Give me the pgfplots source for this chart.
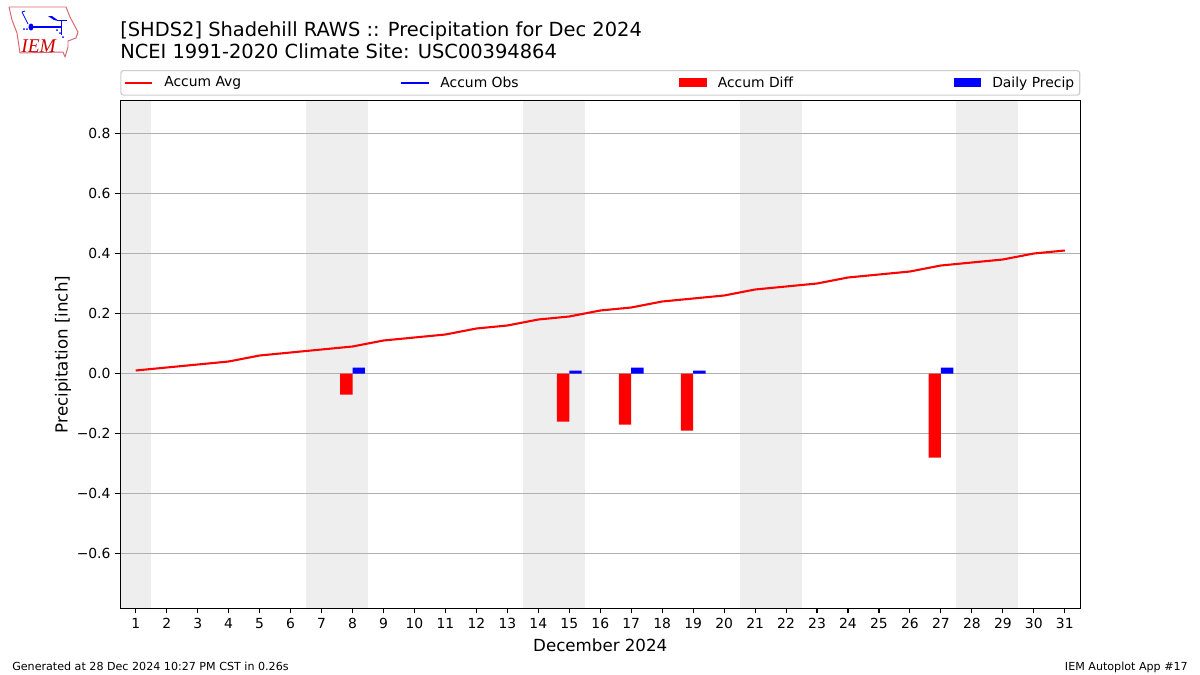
\documentclass[border=0pt]{standalone}
\usepackage{fontspec}
\setmainfont{DejaVu Sans}
\newfontfamily\logofont{Liberation Serif}
\usepackage{pgfplots}
\usepackage{pgfplotstable}
\pgfplotsset{compat=1.18}
\pgfplotstableread{
day avg
1 0.01
2 0.02
3 0.03
4 0.04
5 0.06
6 0.07
7 0.08
8 0.09
9 0.11
10 0.12
11 0.13
12 0.15
13 0.16
14 0.18
15 0.19
16 0.21
17 0.22
18 0.24
19 0.25
20 0.26
21 0.28
22 0.29
23 0.30
24 0.32
25 0.33
26 0.34
27 0.36
28 0.37
29 0.38
30 0.40
31 0.41
}\avgtable
\pgfplotstableread{
day diff precip
8 -0.07 0.02
15 -0.16 0.01
17 -0.17 0.02
19 -0.19 0.01
27 -0.28 0.02
}\raintable
\definecolor{band}{HTML}{EEEEEE}
\definecolor{gridc}{HTML}{B0B0B0}
\definecolor{legc}{HTML}{CCCCCC}
\definecolor{logor}{HTML}{D9666E}
\begin{document}
\begin{tikzpicture}
\path (0,0) rectangle (864bp,486bp);
\begin{axis}[
  set layers=standard,
  at={(86.58bp,47.88bp)}, anchor=south west,
  scale only axis,
  width=691.2bp, height=365.76bp,
  xmin=0.5, xmax=31.5, ymin=-0.7833, ymax=0.91,
  xtick={1,...,31},
  ytick={-0.6,-0.4,-0.2,0,0.2,0.4,0.6,0.8},
  yticklabels={−0.6,−0.4,−0.2,0.0,0.2,0.4,0.6,0.8},
  ymajorgrids,
  grid style={gridc,line width=0.8bp},
  axis line style={line width=0.8bp},
  tick style={black,line width=0.8bp},
  major tick length=3.5bp,
  tick align=outside, xtick pos=bottom, ytick pos=left,
  tick label style={font=\fontsize{10bp}{12bp}\selectfont},
  xticklabel style={yshift=0.2bp},
  /pgf/number format/assume math mode=true,
  xlabel={December 2024},
  ylabel={Precipitation [inch]},
  label style={font=\fontsize{12bp}{14bp}\selectfont},
  xlabel style={yshift=-0.6bp},
  ylabel style={yshift=-2.7bp},
  legend columns=4,
  legend cell align=left,
  legend style={
    at={(0,1.0095)}, anchor=south west,
    draw=legc, rounded corners=2bp, line width=0.8bp,
    font=\fontsize{10bp}{12bp}\selectfont,
    inner xsep=2bp, inner ysep=2.3bp,
    /tikz/column 1/.style={column sep=5.8bp},
    /tikz/column 3/.style={column sep=5.8bp},
    /tikz/column 5/.style={column sep=5.8bp},
    /tikz/column 7/.style={column sep=5.8bp},
    /tikz/column 2/.style={column sep=112.1bp},
    /tikz/column 4/.style={column sep=113.56bp},
    /tikz/column 6/.style={column sep=113.56bp},
  },
]
\addplot[on layer=axis background, fill=band, draw=none, forget plot] coordinates {(0.5,-0.7833) (1.5,-0.7833) (1.5,0.91) (0.5,0.91)};
\addplot[on layer=axis background, fill=band, draw=none, forget plot] coordinates {(6.5,-0.7833) (8.5,-0.7833) (8.5,0.91) (6.5,0.91)};
\addplot[on layer=axis background, fill=band, draw=none, forget plot] coordinates {(13.5,-0.7833) (15.5,-0.7833) (15.5,0.91) (13.5,0.91)};
\addplot[on layer=axis background, fill=band, draw=none, forget plot] coordinates {(20.5,-0.7833) (22.5,-0.7833) (22.5,0.91) (20.5,0.91)};
\addplot[on layer=axis background, fill=band, draw=none, forget plot] coordinates {(27.5,-0.7833) (29.5,-0.7833) (29.5,0.91) (27.5,0.91)};
\addplot[red, line width=1.5bp, line join=round,
  legend image code/.code={\draw[sharp corners,red,line width=1.5bp] (0,0) -- (20bp,0);}] table[x=day,y=avg] {\avgtable};
\addlegendentry{Accum Avg}
\addlegendimage{legend image code/.code={\draw[sharp corners,blue,line width=1.5bp] (0,0) -- (20bp,0);}}
\addlegendentry{Accum Obs}
\addplot[ybar, bar width=8.92bp, bar shift=-4.46bp, fill=red, draw=none,
  legend image code/.code={\fill[sharp corners,red] (0,-3.2bp) rectangle (20bp,3.2bp);}] table[x=day,y=diff] {\raintable};
\addlegendentry{Accum Diff}
\addplot[ybar, bar width=8.92bp, bar shift=4.46bp, fill=blue, draw=none,
  legend image code/.code={\fill[sharp corners,blue] (0,-3.2bp) rectangle (20bp,3.2bp);}] table[x=day,y=precip] {\raintable};
\addlegendentry{Daily Precip}
\end{axis}
\begin{scope}[x=0.72bp,y=0.72bp]
% title
\node[anchor=base west, inner sep=0, font=\fontsize{14bp}{16bp}\selectfont] at (120,639) {[SHDS2] Shadehill RAWS :: Precipitation for Dec 2024};
\node[anchor=base west, inner sep=0, font=\fontsize{14bp}{16bp}\selectfont] at (120,617) {NCEI 1991-2020 Climate Site: USC00394864};
% footer
\node[anchor=base west, inner sep=0, font=\fontsize{8bp}{10bp}\selectfont] at (12,5) {Generated at 28 Dec 2024 10:27 PM CST in 0.26s};
\node[anchor=base east, inner sep=0, font=\fontsize{8bp}{10bp}\selectfont] at (1188,5) {IEM Autoplot App \#17};
% logo
\draw[logor, line width=0.7bp, line join=round] (9,668) -- (66,668) -- (70,658) -- (78,643) -- (76,637) -- (68,634) -- (68,628) -- (65,618) -- (63,623) -- (20,622) -- (17,642) -- (12,655) -- cycle;
\draw[blue, line width=0.9bp] (31,648) -- (61,648);
\draw[blue, line width=0.6bp] (22,663) -- (28,651);
\draw[blue, line width=0.6bp] (22,663) -- (25,664);
\draw[blue, line width=0.6bp] (61,655) -- (61,640);
\draw[blue, line width=0.6bp] (57,655) -- (67,655);
\fill[blue] (31,648) ellipse (2.5 and 3.5);
\fill[blue] (48,659) -- (52,659) -- (59,654) -- (54,655) -- cycle;
\fill[blue] (24,646) circle (1);\fill[blue] (27,646) circle (1);\fill[blue] (57,645) circle (1);\fill[blue] (60,642) circle (1);\fill[blue] (63,638) circle (1);
\node[anchor=base west, inner sep=0, text=red!80!black, font=\logofont\itshape\fontsize{14bp}{16bp}\selectfont] at (21,623) {IEM};
\end{scope}
\end{tikzpicture}
\end{document}
